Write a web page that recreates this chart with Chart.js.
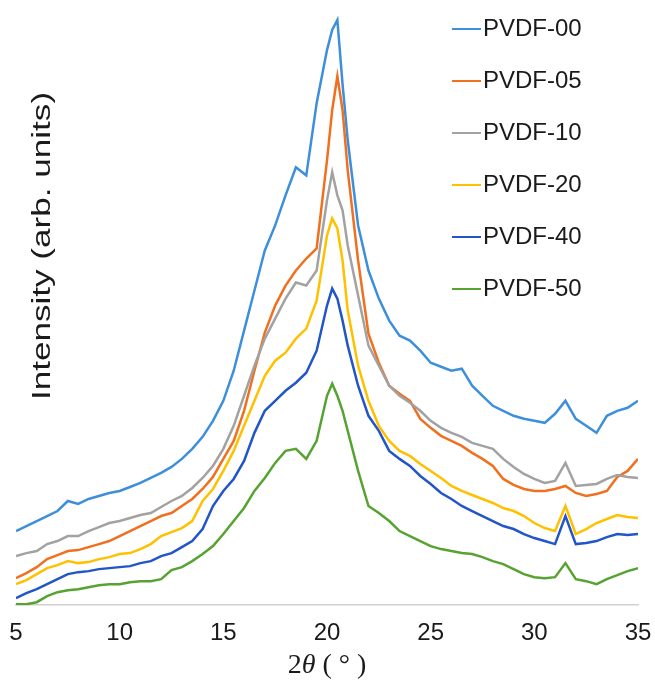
<!DOCTYPE html>
<html>
<head>
<meta charset="utf-8">
<script src="https://cdn.jsdelivr.net/npm/chart.js@4"></script>
<style>
html,body{margin:0;padding:0;background:#fff;}
canvas{display:block;}
</style>
</head>
<body>
<canvas id="c" width="655" height="686"></canvas>
<script>
// 2θ positions (degrees)
const twoTheta = [5,5.5,6,6.5,7,7.5,8,8.5,9,9.5,10,10.5,11,11.5,12,12.5,13,13.5,14,14.5,15,15.5,16,16.5,17,17.5,18,18.5,19,19.5,
  20,20.25,20.5,20.75,21,21.5,22,22.5,23,23.5,24,24.5,25,25.5,26,26.5,27,27.5,28,28.5,29,29.5,30,30.5,31,31.5,32,32.5,33,33.5,34,34.5,35];

const xTicks = [5,10,15,20,25,30,35];
const seriesNames = ["PVDF-00","PVDF-05","PVDF-10","PVDF-20","PVDF-40","PVDF-50"];
const seriesColors = ["#3d8fdc","#f07020","#a2a2a2","#ffc000","#2155c8","#56a332"];

// intensities (arb. units)
const pvdf00 = [74,79,84,89,94,104,101,106,109,112,114,118,122,127,132,138,146,156,168,184,204,234,274,314,354,379,409,437,429,501,
  554,574,584,520,464,379,334,306,284,269,264,254,242,238,234,236,219,209,199,194,189,186,184,182,191,204,186,179,172,189,194,197,204];
const pvdf05 = [27,32,38,46,50,54,55,58,61,64,69,74,79,84,89,92,99,106,116,128,146,164,194,234,272,299,319,334,346,356,
  444,494,528,494,434,344,271,242,219,211,204,186,177,169,164,159,152,146,139,126,120,116,114,114,116,119,112,109,111,114,128,134,146];
const pvdf10 = [49,52,54,61,64,69,69,74,78,82,84,87,90,92,98,104,109,117,127,139,156,179,209,239,266,286,306,322,319,334,
  404,432,409,394,359,309,259,239,219,209,202,194,184,177,172,168,162,159,156,146,138,131,126,122,124,142,119,120,121,126,130,128,127];
const pvdf20 = [21,25,31,37,40,44,42,43,46,48,51,52,56,61,69,73,77,84,104,116,134,154,179,204,229,244,252,266,276,304,
  369,386,376,344,294,239,204,179,164,154,149,141,134,127,119,114,110,106,102,97,94,89,82,77,74,99,71,76,82,86,90,88,87];
const pvdf40 = [7,12,16,21,26,31,33,34,36,37,38,39,42,44,49,52,58,64,76,99,114,126,144,172,194,204,214,222,232,254,
  299,316,306,284,259,219,189,174,154,146,139,129,121,112,106,99,94,89,84,79,76,71,67,64,61,89,61,62,64,68,71,70,71];
const pvdf50 = [1,1,3,9,13,15,16,18,20,21,21,23,24,24,26,35,38,44,51,59,71,84,97,114,127,142,154,156,146,164,
  209,221,209,194,174,134,99,92,84,74,69,64,59,56,54,52,51,48,44,41,36,31,28,27,28,42,26,24,21,26,30,34,37];

const seriesValues = [pvdf00,pvdf05,pvdf10,pvdf20,pvdf40,pvdf50];

const datasets = seriesNames.map((name,i)=>({
  label: name,
  data: twoTheta.map((x,j)=>({x:x, y:seriesValues[i][j]})),
  borderColor: seriesColors[i],
  backgroundColor: seriesColors[i],
  borderWidth: 2.5,
  pointRadius: 0,
  tension: 0,
  fill: false,
  order: 5 - i
}));

const SANS = "'Liberation Sans', Arial, Helvetica, sans-serif";
const SERIF = "'Liberation Serif', 'Times New Roman', serif";

const customText = {
  id: 'customText',
  afterDraw(chart){
    const ctx = chart.ctx;
    ctx.save();
    // legend
    ctx.font = "24px " + SANS;
    ctx.textBaseline = 'middle';
    ctx.textAlign = 'left';
    const legendY0 = 28, legendStep = 52;
    seriesNames.forEach((name,i)=>{
      const y = legendY0 + i*legendStep;
      ctx.strokeStyle = seriesColors[i];
      ctx.lineWidth = 2;
      ctx.beginPath();
      ctx.moveTo(452, y+1);
      ctx.lineTo(481, y+1);
      ctx.stroke();
      ctx.fillStyle = '#1a1a1a';
      ctx.fillText(name, 483, y+1);
    });
    // y title
    ctx.save();
    ctx.translate(43, 246);
    ctx.rotate(-Math.PI/2);
    ctx.scale(1.35, 1);
    ctx.font = "26px " + SANS;
    ctx.textAlign = 'center';
    ctx.textBaseline = 'middle';
    ctx.fillStyle = '#1a1a1a';
    ctx.fillText("Intensity (arb. units)", 0, 0);
    ctx.restore();
    // x title: 2θ ( ° )
    const parts = [["2","28px "+SERIF],["θ","italic 28px "+SERIF],[" ( ° )","28px "+SERIF]];
    let total = 0;
    parts.forEach(p=>{ctx.font=p[1]; total += ctx.measureText(p[0]).width;});
    let x = 327 - total/2;
    ctx.textAlign = 'left';
    ctx.textBaseline = 'middle';
    ctx.fillStyle = '#1a1a1a';
    parts.forEach(p=>{ctx.font=p[1]; ctx.fillText(p[0], x, 666); x += ctx.measureText(p[0]).width;});
    ctx.restore();
  }
};

new Chart(document.getElementById('c'), {
  type: 'line',
  data: { datasets: datasets },
  options: {
    responsive: false,
    animation: false,
    devicePixelRatio: 1,
    layout: { padding: { left: 16, right: 17, top: 14, bottom: 37 } },
    plugins: { legend: { display: false }, tooltip: { enabled: false } },
    scales: {
      x: {
        type: 'linear',
        min: 5, max: 35,
        afterBuildTicks: (scale)=>{ scale.ticks = xTicks.map(v=>({value:v})); },
        grid: { display: false, drawTicks: true, tickLength: 13 },
        border: { display: true, color: '#cfcfcf', width: 1.5 },
        ticks: { font: { family: SANS, size: 24 }, color: '#1a1a1a', padding: 1, maxRotation: 0, autoSkip: false }
      },
      y: {
        type: 'linear',
        min: 0, max: 590,
        display: false
      }
    }
  },
  plugins: [customText]
});
</script>
</body>
</html>
